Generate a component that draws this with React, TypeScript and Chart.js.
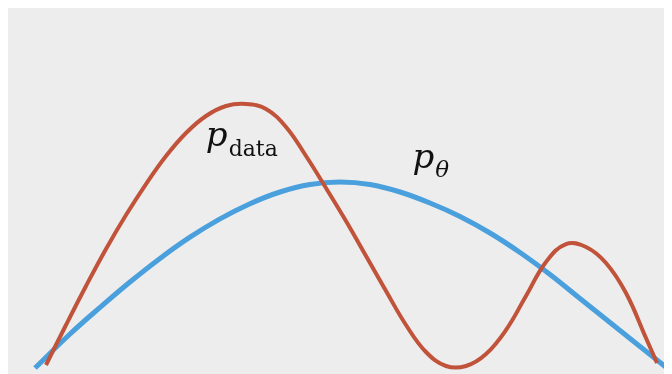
import React, { useEffect, useRef } from "react";
import { Chart, registerables } from "chart.js";

Chart.register(...registerables);

// True data distribution (bimodal) sampled along the x axis
const dataX = [5.72, 8.73, 11.75, 14.76, 17.77, 20.78, 23.8, 26.81, 29.82, 32.83, 35.84, 38.86, 41.87, 44.88, 47.89, 50.9, 53.92, 56.93, 59.94, 62.95, 65.96, 68.98, 71.99, 75.0, 78.01, 81.02, 84.04, 87.05, 90.06, 93.07, 96.08, 97.74];
const dataY = [2.45, 13.35, 23.98, 34.06, 43.32, 51.77, 59.4, 65.67, 70.3, 73.02, 73.57, 72.21, 67.3, 59.4, 50.68, 41.69, 32.15, 22.62, 13.35, 5.99, 2.18, 2.18, 5.45, 11.99, 21.25, 30.52, 35.42, 34.6, 30.25, 22.07, 9.81, 3.0];

// Model distribution (single broad mode)
const modelX = [4.07, 9.34, 13.86, 18.37, 22.89, 27.41, 31.93, 36.45, 40.96, 45.48, 50.0, 54.52, 59.04, 63.55, 68.07, 72.59, 77.11, 81.63, 86.14, 90.66, 95.18, 100.0];
const modelY = [1.63, 10.9, 18.15, 25.07, 31.5, 37.28, 42.26, 46.4, 49.59, 51.63, 52.32, 51.63, 49.59, 46.59, 42.92, 38.42, 33.11, 27.11, 20.57, 14.03, 7.49, 0.54];

const RED = "#C0533A";
const BLUE = "#4A9FDD";
const BG = "#EDEDED";

const background = {
  id: "background",
  beforeDraw(chart: Chart) {
    const { ctx, width, height } = chart;
    ctx.save();
    ctx.fillStyle = BG;
    ctx.fillRect(0, 0, width, height);
    ctx.restore();
  },
};

// p with a subscript, anchored in data units
function drawSymbol(
  chart: Chart,
  x: number,
  y: number,
  sub: string,
  subFont: string,
  subDy: number
) {
  const { ctx } = chart;
  const px = chart.scales.x.getPixelForValue(x);
  const py = chart.scales.y.getPixelForValue(y);
  ctx.save();
  ctx.fillStyle = "#111111";
  ctx.textBaseline = "alphabetic";
  ctx.textAlign = "left";
  ctx.font = "italic 34px 'DejaVu Serif'";
  ctx.fillText("p", px, py);
  const w = ctx.measureText("p").width;
  ctx.font = subFont;
  ctx.fillText(sub, px + w + 1, py + subDy);
  ctx.restore();
}

const labels = {
  id: "labels",
  afterDatasetsDraw(chart: Chart) {
    drawSymbol(chart, 29.8, 62.0, "data", "22px 'DejaVu Serif'", 10);
    drawSymbol(chart, 60.9, 56.0, "θ", "italic 23px 'DejaVu Serif'", 9);
  },
};

export default function App() {
  const ref = useRef<HTMLCanvasElement | null>(null);

  useEffect(() => {
    if (!ref.current) return;
    const chart = new Chart(ref.current, {
      type: "line",
      data: {
        datasets: [
          {
            label: "p_data",
            data: dataX.map((x, i) => ({ x, y: dataY[i] })),
            borderColor: RED,
            borderWidth: 4,
            pointRadius: 0,
            tension: 0.4,
            borderCapStyle: "butt",
          },
          {
            label: "p_theta",
            data: modelX.map((x, i) => ({ x, y: modelY[i] })),
            borderColor: BLUE,
            borderWidth: 5,
            pointRadius: 0,
            tension: 0.4,
            borderCapStyle: "butt",
          },
        ],
      },
      options: {
        responsive: false,
        animation: false,
        layout: { padding: 0 },
        plugins: {
          legend: { display: false },
          tooltip: { enabled: false },
        },
        scales: {
          x: { type: "linear", min: 0, max: 100, display: false },
          y: { min: 0, max: 100, display: false },
        },
      },
      plugins: [background, labels],
    });
    return () => chart.destroy();
  }, []);

  return (
    <div style={{ marginTop: -1 }}>
      <canvas ref={ref} width={664} height={367} style={{ display: "block" }} />
    </div>
  );
}
